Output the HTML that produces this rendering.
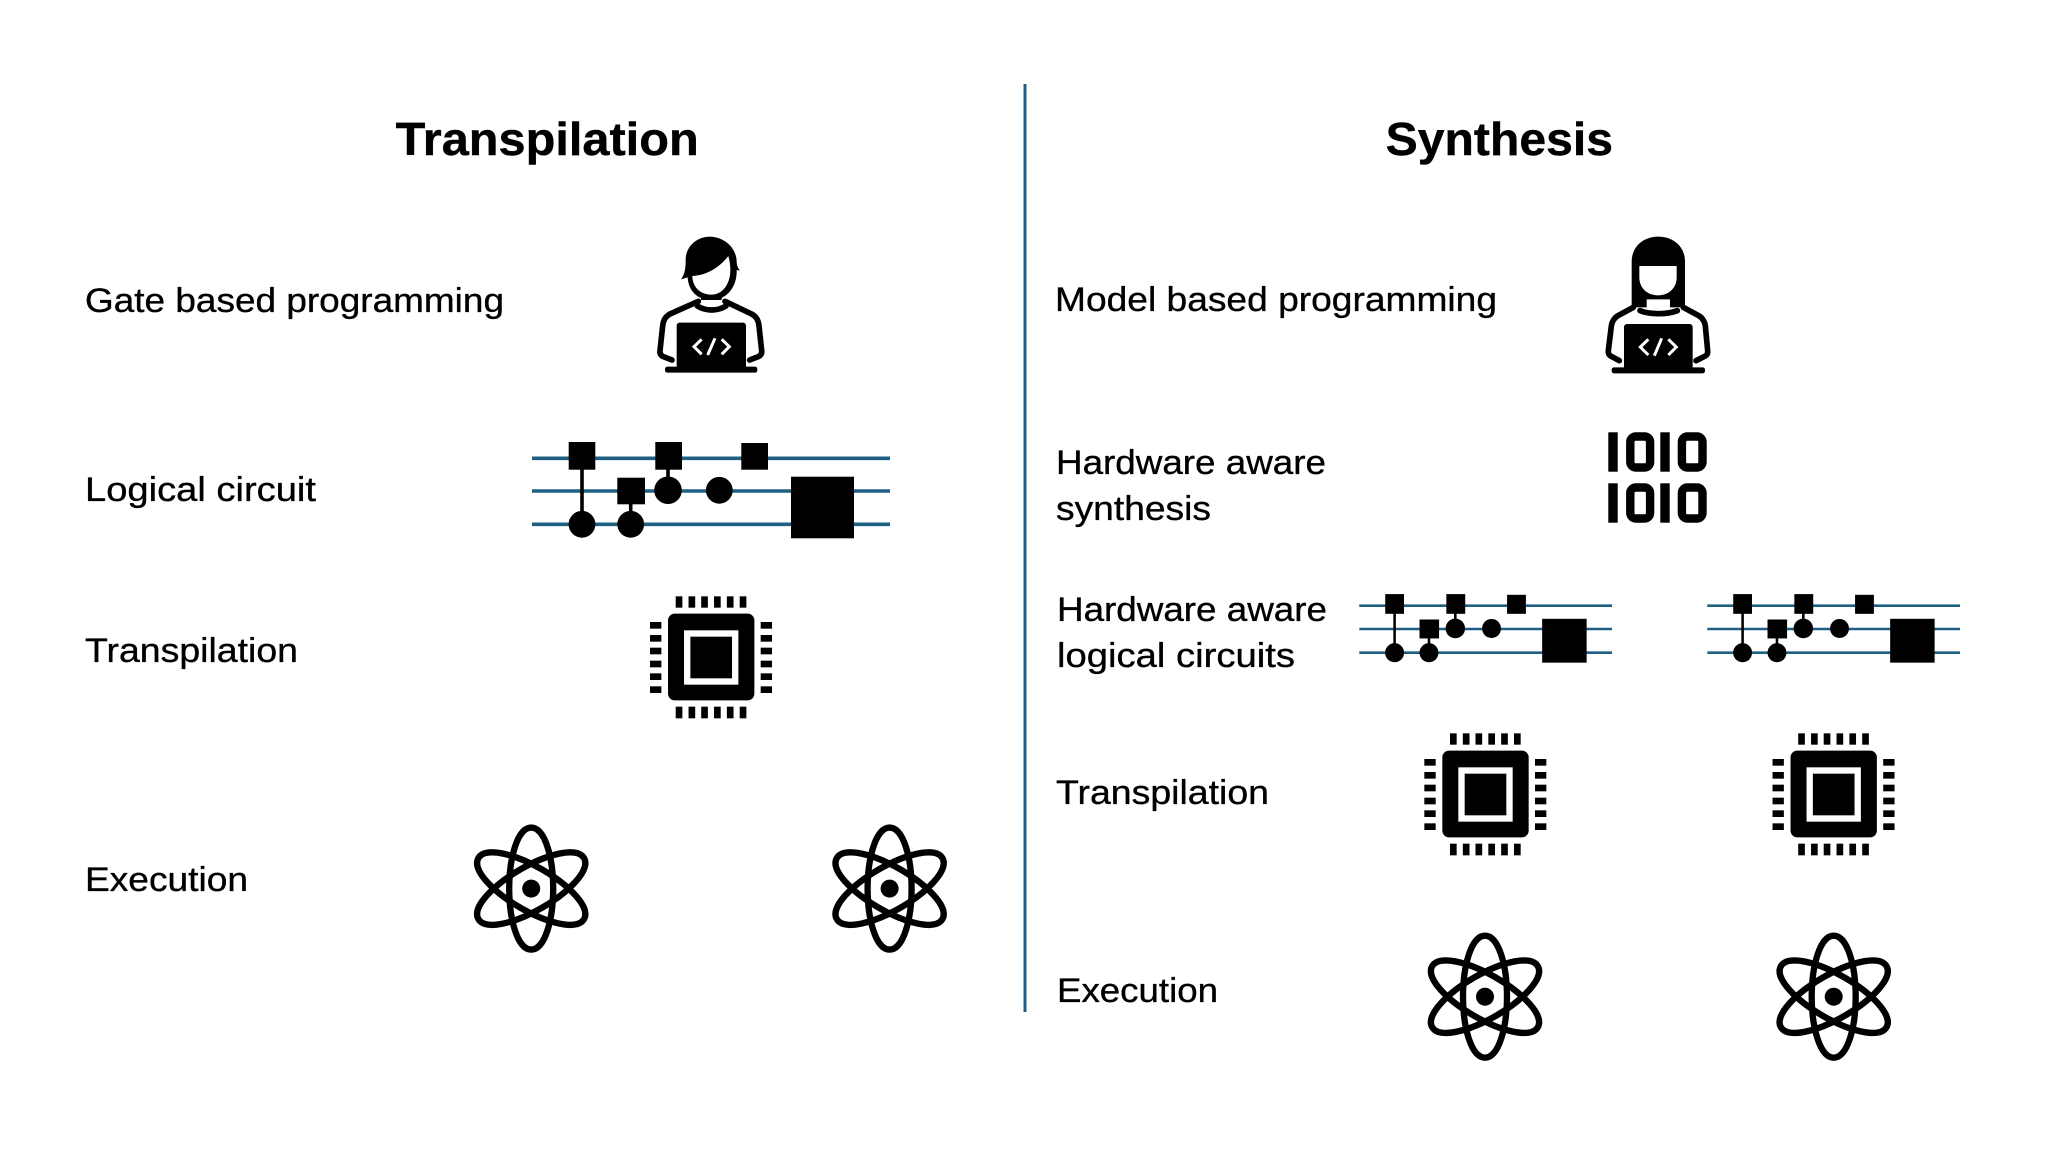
<!DOCTYPE html>
<html lang="en">
<head>
<meta charset="utf-8">
<title>Transpilation and Synthesis</title>
<style>
html,body{margin:0;padding:0;background:#fff;width:2048px;height:1152px;overflow:hidden}
svg{display:block}
text{font-family:"Liberation Sans",sans-serif;fill:#000}
.h{font-size:46px;font-weight:700;stroke:#000;stroke-width:.4px}
.t{font-size:34px;stroke:#000;stroke-width:.35px}
</style>
</head>
<body>
<svg xmlns="http://www.w3.org/2000/svg" width="2048" height="1152" viewBox="0 0 2048 1152">
<defs>
<g id="circuit">
<g stroke="#1d6083" stroke-width="3.6" fill="none">
<path d="M532 458.3H890M532 491H890M532 524.3H890"/>
</g>
<g fill="#000">
<rect x="568.7" y="442" width="26.6" height="27.7"/>
<rect x="617.3" y="477.7" width="27.7" height="26.6"/>
<rect x="655.3" y="442" width="26.7" height="27.7"/>
<rect x="741.3" y="443" width="26.7" height="26.7"/>
<rect x="791" y="476.7" width="63" height="61.6"/>
<circle cx="582" cy="524.3" r="13.4"/>
<circle cx="630.7" cy="524.3" r="13.4"/>
<circle cx="668" cy="490.3" r="13.8"/>
<circle cx="719.3" cy="490.3" r="13.4"/>
</g>
<path d="M582 469V512M630.7 504V512M668 469V478" stroke="#000" stroke-width="3.6" fill="none"/>
</g>
<g id="chip">
<rect x="-129.5" y="-130" width="259" height="260" rx="20" fill="#000"/>
<rect x="-81.5" y="-80" width="163" height="163" fill="#fff"/>
<rect x="-62.5" y="-61" width="125" height="125" fill="#000"/>
<g fill="#000">
<rect x="-106.5" y="-182" width="20" height="34"/><rect x="-68" y="-182" width="20" height="34"/><rect x="-30" y="-182" width="20" height="34"/><rect x="8.5" y="-182" width="20" height="34"/><rect x="47" y="-182" width="20" height="34"/><rect x="85.5" y="-182" width="20" height="34"/>
<rect x="-106.5" y="149" width="20" height="35"/><rect x="-68" y="149" width="20" height="35"/><rect x="-30" y="149" width="20" height="35"/><rect x="8.5" y="149" width="20" height="35"/><rect x="47" y="149" width="20" height="35"/><rect x="85.5" y="149" width="20" height="35"/>
<rect x="-183.5" y="-105" width="34" height="20"/><rect x="-183.5" y="-66" width="34" height="20"/><rect x="-183.5" y="-28" width="34" height="20"/><rect x="-183.5" y="11" width="34" height="20"/><rect x="-183.5" y="49" width="34" height="20"/><rect x="-183.5" y="88" width="34" height="20"/>
<rect x="148.5" y="-105" width="34" height="20"/><rect x="148.5" y="-66" width="34" height="20"/><rect x="148.5" y="-28" width="34" height="20"/><rect x="148.5" y="11" width="34" height="20"/><rect x="148.5" y="49" width="34" height="20"/><rect x="148.5" y="88" width="34" height="20"/>
</g>
</g>
<path id="lobe" d="M0 -183C42 -183 66 -90 66 0C66 90 42 183 0 183C-42 183 -66 90 -66 0C-66 -90 -42 -183 0 -183Z" fill="none" stroke="#000" stroke-width="19"/>
<g id="atom">
<use href="#lobe"/>
<use href="#lobe" transform="rotate(60)"/>
<use href="#lobe" transform="rotate(-60)"/>
<circle r="27" fill="#000"/>
</g>
<g id="binary">
<rect x="0" y="0" width="9.4" height="39.4" fill="#000"/>
<rect x="22" y="4.2" width="19.8" height="31" rx="5.5" fill="none" stroke="#000" stroke-width="8.4"/>
<rect x="52" y="0" width="9.4" height="39.4" fill="#000"/>
<rect x="73.6" y="4.2" width="20.6" height="31" rx="5.5" fill="none" stroke="#000" stroke-width="8.4"/>
</g>
</defs>

<rect width="2048" height="1152" fill="#fff"/>
<rect x="1023.5" y="84" width="3" height="928" fill="#1d6083"/>

<text class="h" x="395.7" y="155" textLength="303" lengthAdjust="spacingAndGlyphs">Transpilation</text>
<text class="h" x="1385.7" y="155" textLength="227.3" lengthAdjust="spacingAndGlyphs">Synthesis</text>

<text class="t" x="85" y="312" textLength="419" lengthAdjust="spacingAndGlyphs">Gate based programming</text>
<text class="t" x="85" y="501" textLength="231" lengthAdjust="spacingAndGlyphs">Logical circuit</text>
<text class="t" x="85" y="662" textLength="213" lengthAdjust="spacingAndGlyphs">Transpilation</text>
<text class="t" x="85" y="891" textLength="163" lengthAdjust="spacingAndGlyphs">Execution</text>

<text class="t" x="1055" y="311" textLength="442" lengthAdjust="spacingAndGlyphs">Model based programming</text>
<text class="t" x="1056" y="474" textLength="270" lengthAdjust="spacingAndGlyphs">Hardware aware</text>
<text class="t" x="1056" y="520" textLength="155" lengthAdjust="spacingAndGlyphs">synthesis</text>
<text class="t" x="1057" y="621" textLength="270" lengthAdjust="spacingAndGlyphs">Hardware aware</text>
<text class="t" x="1057" y="667" textLength="238" lengthAdjust="spacingAndGlyphs">logical circuits</text>
<text class="t" x="1056" y="804" textLength="213" lengthAdjust="spacingAndGlyphs">Transpilation</text>
<text class="t" x="1057" y="1002" textLength="161" lengthAdjust="spacingAndGlyphs">Execution</text>

<!-- Programmer 1 -->
<g transform="translate(620 220) scale(.33333)">
<path d="M183 178C196 160 197 140 197 120C197 78 232 50 270 50C320 52 350 90 350 125C350 135 354 145 360 152L350 150C352 200 320 240 275 240C230 240 205 210 203 172Z" fill="#000"/>
<path d="M217 168C265 165 300 140 325 108C329 122 331 135 331 150C331 195 305 224 275 224C240 224 217 200 217 168Z" fill="#fff"/>
<path d="M243 225V240H305V225Z" fill="#000"/>
<path d="M238 240H312V258L275 262L238 258Z" fill="#fff"/>
<g fill="none" stroke="#000" stroke-width="17" stroke-linejoin="round" stroke-linecap="round">
<path d="M156 420L130 410C122 406 119 400 120 392L128 318C130 300 136 290 150 282L235 244"/>
<path d="M389 420L415 410C423 406 426 400 425 392L417 318C415 300 409 290 395 282L315 244"/>
<path d="M232 258C258 274 292 274 318 258"/>
</g>
<rect x="170" y="308" width="208" height="140" rx="9" fill="#000"/>
<rect x="135" y="440" width="277" height="18" rx="7" fill="#000"/>
<g fill="none" stroke="#fff" stroke-width="9">
<path d="M245 358L222 380L245 403M305 358L328 380L305 403M285 355L263 405"/>
</g>
</g>

<!-- Programmer 2 -->
<g transform="translate(1590 220) scale(.33333)">
<path d="M125 262V125C125 80 160 50 205 50C250 50 285 80 285 125V262Z" fill="#000"/>
<path d="M148 138H260V172C260 205 235 226 204 226C173 226 148 205 148 172Z" fill="#fff"/>
<path d="M170 238H240V262L205 266L170 262Z" fill="#fff"/>
<g fill="none" stroke="#000" stroke-width="17" stroke-linejoin="round" stroke-linecap="round">
<path d="M88 422L62 408C56 404 54 399 55 392L64 318C66 304 72 295 82 288L130 262"/>
<path d="M318 422L346 408C352 404 354 399 353 392L346 318C344 304 338 295 328 288L280 262"/>
<path d="M150 272C180 284 230 284 262 272"/>
</g>
<rect x="102" y="312" width="206" height="136" rx="9" fill="#000"/>
<rect x="65" y="442" width="280" height="18" rx="7" fill="#000"/>
<g fill="none" stroke="#fff" stroke-width="9">
<path d="M175 358L151 381L175 405M235 358L259 381L235 405M215 355L193 407"/>
</g>
</g>

<!-- Circuits -->
<use href="#circuit"/>
<use href="#circuit" transform="translate(1359.3 605.7) scale(.706 .712) translate(-532 -458.3)"/>
<use href="#circuit" transform="translate(1707.3 605.7) scale(.706 .712) translate(-532 -458.3)"/>

<!-- Binary -->
<g><title>1010</title>
<use href="#binary" transform="translate(1608.3 432.3)"/>
<use href="#binary" transform="translate(1608.3 483.3)"/>
</g>

<!-- Chips -->
<use href="#chip" transform="translate(711.2 657) scale(.33333)"/>
<use href="#chip" transform="translate(1485.5 794) scale(.33333)"/>
<use href="#chip" transform="translate(1833.7 794) scale(.33333)"/>

<!-- Atoms -->
<use href="#atom" transform="translate(531.2 888.6) scale(.33333)"/>
<use href="#atom" transform="translate(889.6 888.6) scale(.33333)"/>
<use href="#atom" transform="translate(1485 996.7) scale(.33333)"/>
<use href="#atom" transform="translate(1833.7 996.7) scale(.33333)"/>
</svg>
</body>
</html>
